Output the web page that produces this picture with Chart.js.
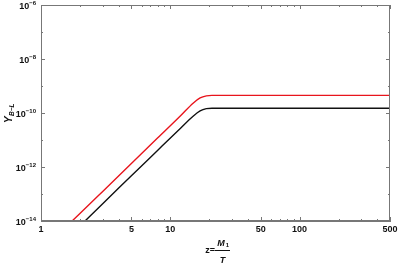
<!DOCTYPE html>
<html>
<head>
<meta charset="utf-8">
<script src="https://cdn.jsdelivr.net/npm/chart.js@4/dist/chart.umd.min.js"></script>
<style>
  html, body { margin: 0; padding: 0; background: #fff; }
  #wrap { width: 399px; height: 268px; }
</style>
</head>
<body>
<div id="wrap"><canvas id="yChart" width="399" height="268"></canvas></div>
<script>
// values
const redX   = [1.74, 2, 3, 5, 8, 12, 15, 17, 19, 21, 25, 50, 100, 500];
const redY   = [1e-14, 1.9e-14, 1.25e-13, 1.35e-12, 1.2e-11, 7.9e-11, 2.3e-10, 3.6e-10, 4.3e-10, 4.5e-10, 4.5e-10, 4.5e-10, 4.5e-10, 4.5e-10];
const blackX = [2.19, 3, 5, 8, 12, 15, 17, 19, 21, 25, 50, 100, 500];
const blackY = [1e-14, 4.4e-14, 4.7e-13, 4.2e-12, 2.75e-11, 7.6e-11, 1.2e-10, 1.45e-10, 1.5e-10, 1.5e-10, 1.5e-10, 1.5e-10, 1.5e-10];

const xTicks = [1, 5, 10, 50, 100, 500];
const xMinor = [2, 3, 4, 6, 7, 8, 9, 20, 30, 40, 60, 70, 80, 90, 200, 300, 400];
const yExps  = [-6, -8, -10, -12, -14];
const yMinorExps = [-7, -9, -11, -13];

const pts = (xs, ys) => xs.map((x, i) => ({ x: x, y: ys[i] }));
const FONT = '"Liberation Sans", Arial, sans-serif';

// tick marks inside the frame, tick labels and axis titles
const decor = {
  id: 'decor',
  afterDraw(chart) {
    const { ctx, chartArea: a } = chart;
    const xs = chart.scales.x, ys = chart.scales.y;
    ctx.save();
    ctx.strokeStyle = '#777';
    ctx.lineWidth = 1;
    const tick = (x1, y1, x2, y2) => { ctx.beginPath(); ctx.moveTo(x1, y1); ctx.lineTo(x2, y2); ctx.stroke(); };
    xTicks.concat(xMinor).forEach(v => {
      const len = xTicks.includes(v) ? 4 : 2;
      const p = Math.round(xs.getPixelForValue(v)) + 0.5;
      tick(p, a.bottom, p, a.bottom - len);
      tick(p, a.top, p, a.top + len);
    });
    yExps.concat(yMinorExps).forEach(e => {
      const len = yExps.includes(e) ? 4 : 2;
      const p = Math.round(ys.getPixelForValue(Math.pow(10, e))) + 0.5;
      tick(a.left, p, a.left + len, p);
      tick(a.right, p, a.right - len, p);
    });

    ctx.fillStyle = '#111';
    // x tick labels
    ctx.font = 'bold 9px ' + FONT;
    ctx.textAlign = 'center';
    ctx.textBaseline = 'top';
    xTicks.forEach(v => ctx.fillText(String(v), xs.getPixelForValue(v), a.bottom + 4));

    // y tick labels 10^e
    yExps.forEach(e => {
      const p = ys.getPixelForValue(Math.pow(10, e));
      const ex = '\u2212' + Math.abs(e);
      ctx.font = 'bold 6px ' + FONT;
      const we = ctx.measureText(ex).width;
      ctx.textAlign = 'right';
      ctx.textBaseline = 'alphabetic';
      ctx.fillText(ex, a.left - 5, p - 0.5);
      ctx.font = 'bold 9px ' + FONT;
      ctx.fillText('10', a.left - 5 - we, p + 4);
    });

    // y axis title Y_{B-L}
    ctx.save();
    ctx.translate(12, 113);
    ctx.rotate(-Math.PI / 2);
    ctx.textAlign = 'left';
    ctx.textBaseline = 'alphabetic';
    ctx.font = 'bold italic 10px ' + FONT;
    ctx.fillText('Y', -10, 0);
    ctx.font = 'bold italic 6.5px ' + FONT;
    ctx.fillText('B\u2212L', -3, 2);
    ctx.restore();

    // x axis title z = M1 / T
    ctx.font = 'bold 9px ' + FONT;
    ctx.textAlign = 'right';
    ctx.textBaseline = 'middle';
    ctx.fillText('z=', 215, 251);
    ctx.fillRect(215, 250, 15, 1);
    ctx.textAlign = 'center';
    ctx.textBaseline = 'alphabetic';
    ctx.font = 'bold italic 9px ' + FONT;
    ctx.fillText('M', 221, 246);
    ctx.font = 'bold 6px ' + FONT;
    ctx.fillText('1', 227.5, 247);
    ctx.font = 'bold italic 9px ' + FONT;
    ctx.fillText('T', 222.5, 263);
    ctx.restore();
  }
};

new Chart(document.getElementById('yChart'), {
  type: 'line',
  data: {
    datasets: [
      { data: pts(redX, redY), borderColor: '#e8141c', borderWidth: 1.4, pointRadius: 0, cubicInterpolationMode: 'monotone', fill: false },
      { data: pts(blackX, blackY), borderColor: '#111', borderWidth: 1.4, pointRadius: 0, cubicInterpolationMode: 'monotone', fill: false }
    ]
  },
  options: {
    responsive: false,
    animation: false,
    layout: { padding: { left: 41, right: 9, top: 5, bottom: 47 } },
    plugins: { legend: { display: false }, tooltip: { enabled: false } },
    scales: {
      x: {
        type: 'logarithmic', min: 1, max: 500,
        grid: { display: false, drawTicks: false },
        border: { display: true, color: '#777', width: 1 },
        ticks: { display: false }
      },
      y: {
        type: 'logarithmic', min: 1e-14, max: 1e-6,
        grid: { display: false, drawTicks: false },
        border: { display: true, color: '#777', width: 1 },
        ticks: { display: false }
      }
    }
  },
  plugins: [decor, {
    id: 'frame',
    afterDatasetsDraw(chart) {
      const { ctx, chartArea: a } = chart;
      ctx.save();
      ctx.strokeStyle = '#777';
      ctx.lineWidth = 1;
      ctx.strokeRect(a.left + 0.5, a.top + 0.5, a.right - a.left - 1, a.bottom - a.top - 1);
      ctx.restore();
    }
  }]
});
</script>
</body>
</html>
